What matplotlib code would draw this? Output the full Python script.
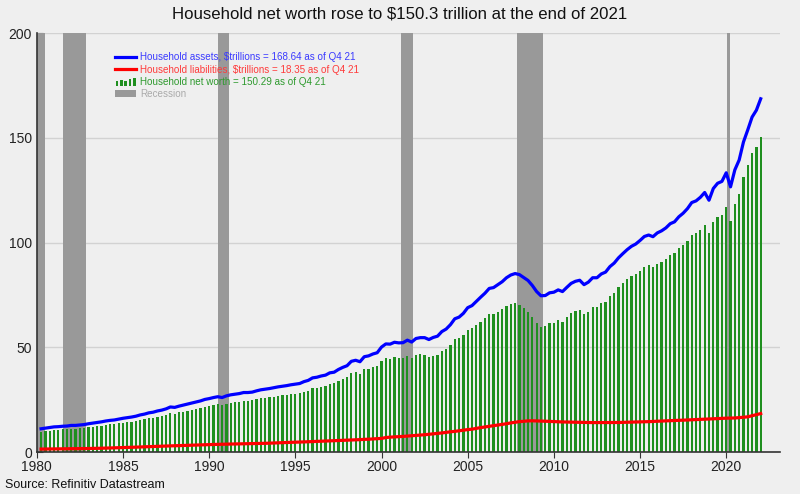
import matplotlib
matplotlib.use("Agg")
import matplotlib.pyplot as plt
import numpy as np
from matplotlib.patches import Patch, Rectangle
from matplotlib.lines import Line2D
from matplotlib.legend_handler import HandlerBase

plt.rcParams['font.family'] = ['Liberation Sans', 'DejaVu Sans']

# Квартальные данные 1980Q1 .. 2021Q4, трлн долл.
first_year = 1980
last_year = 2021

net_worth = [
    9.7, 10.0, 10.2, 10.5,
    10.6, 10.8, 10.8, 11.1,
    11.1, 11.3, 11.5, 11.8,
    12.1, 12.3, 12.6, 12.9,
    13.2, 13.3, 13.7, 14.0,
    14.2, 14.5, 14.8, 15.3,
    15.6, 16.1, 16.4, 16.9,
    17.2, 17.8, 18.6, 18.3,
    18.9, 19.3, 19.7, 20.1,
    20.6, 21.0, 21.6, 22.0,
    22.4, 22.7, 22.3, 23.0,
    23.5, 23.8, 24.0, 24.5,
    24.5, 24.6, 25.1, 25.6,
    25.8, 26.1, 26.4, 26.7,
    27.0, 27.2, 27.5, 27.7,
    28.0, 28.8, 29.3, 30.4,
    30.7, 31.2, 31.5, 32.5,
    32.8, 34.0, 34.9, 35.6,
    37.6, 38.0, 37.2, 39.5,
    39.8, 40.5, 41.0, 43.6,
    44.7, 44.4, 45.2, 44.7,
    44.7, 45.8, 44.7, 46.3,
    46.6, 46.3, 45.2, 46.0,
    46.5, 48.4, 49.3, 51.1,
    53.8, 54.3, 55.8, 58.2,
    59.0, 60.6, 62.2, 63.8,
    65.9, 65.9, 67.0, 68.1,
    69.7, 70.6, 71.0, 70.2,
    68.6, 67.0, 64.6, 61.7,
    59.8, 60.0, 61.4, 61.8,
    63.0, 62.2, 64.3, 66.2,
    67.3, 67.8, 65.7, 67.0,
    69.1, 69.1, 71.0, 71.8,
    74.5, 76.1, 78.6, 80.5,
    82.4, 84.0, 85.0, 86.6,
    88.5, 89.1, 88.2, 89.9,
    90.8, 92.1, 94.0, 94.8,
    97.2, 98.8, 100.9, 103.6,
    104.4, 106.0, 108.2, 104.4,
    109.9, 112.3, 113.1, 117.1,
    110.4, 118.4, 123.0, 131.4,
    137.0, 142.6, 145.4, 150.29,
]

liabilities = [
    1.40, 1.42, 1.45, 1.48,
    1.50, 1.54, 1.57, 1.59,
    1.60, 1.62, 1.64, 1.67,
    1.70, 1.75, 1.80, 1.86,
    1.90, 1.97, 2.03, 2.09,
    2.15, 2.23, 2.32, 2.42,
    2.48, 2.56, 2.64, 2.72,
    2.76, 2.84, 2.92, 2.98,
    3.03, 3.12, 3.20, 3.27,
    3.32, 3.40, 3.47, 3.54,
    3.60, 3.66, 3.72, 3.78,
    3.80, 3.84, 3.88, 3.92,
    3.94, 4.00, 4.05, 4.12,
    4.15, 4.23, 4.31, 4.39,
    4.44, 4.53, 4.61, 4.69,
    4.73, 4.82, 4.90, 4.98,
    5.02, 5.12, 5.20, 5.28,
    5.33, 5.43, 5.52, 5.60,
    5.66, 5.79, 5.91, 6.04,
    6.11, 6.26, 6.38, 6.49,
    6.90, 7.10, 7.20, 7.35,
    7.45, 7.60, 7.75, 7.90,
    8.00, 8.25, 8.45, 8.65,
    8.80, 9.10, 9.40, 9.65,
    9.85, 10.15, 10.45, 10.70,
    10.90, 11.30, 11.65, 11.95,
    12.20, 12.55, 12.85, 13.15,
    13.50, 13.90, 14.20, 14.50,
    14.70, 14.85, 14.90, 14.85,
    14.75, 14.70, 14.60, 14.50,
    14.40, 14.35, 14.30, 14.25,
    14.20, 14.20, 14.15, 14.10,
    14.05, 14.05, 14.00, 14.05,
    14.00, 14.05, 14.10, 14.15,
    14.15, 14.20, 14.30, 14.35,
    14.40, 14.50, 14.60, 14.70,
    14.75, 14.85, 14.95, 15.05,
    15.10, 15.20, 15.30, 15.45,
    15.50, 15.60, 15.70, 15.80,
    15.85, 15.95, 16.05, 16.15,
    16.20, 16.25, 16.40, 16.60,
    16.80, 17.30, 17.80, 18.35,
]

assets = [
    11.1, 11.4, 11.7, 12.0,
    12.1, 12.3, 12.4, 12.7,
    12.7, 12.9, 13.1, 13.5,
    13.8, 14.1, 14.4, 14.8,
    15.1, 15.3, 15.7, 16.1,
    16.4, 16.7, 17.1, 17.7,
    18.1, 18.7, 19.0, 19.6,
    20.0, 20.6, 21.5, 21.3,
    21.9, 22.4, 22.9, 23.4,
    23.9, 24.4, 25.1, 25.5,
    26.0, 26.4, 26.0, 26.8,
    27.3, 27.6, 27.9, 28.4,
    28.4, 28.6, 29.2, 29.7,
    30.0, 30.3, 30.7, 31.1,
    31.4, 31.7, 32.1, 32.4,
    32.7, 33.6, 34.2, 35.4,
    35.7, 36.3, 36.7, 37.8,
    38.1, 39.4, 40.4, 41.2,
    43.3, 43.8, 43.1, 45.5,
    45.9, 46.8, 47.4, 50.1,
    51.6, 51.5, 52.4, 52.1,
    52.2, 53.4, 52.5, 54.2,
    54.6, 54.6, 53.7, 54.7,
    55.3, 57.5, 58.7, 60.8,
    63.6, 64.4, 66.2, 68.9,
    69.9, 71.9, 73.9, 75.8,
    78.1, 78.5, 79.9, 81.3,
    83.2, 84.5, 85.2, 84.7,
    83.3, 81.9, 79.5, 76.6,
    74.6, 74.7, 76.0, 76.3,
    77.4, 76.6, 78.6, 80.5,
    81.5, 82.0, 79.9, 81.1,
    83.2, 83.2, 85.0, 85.9,
    88.5, 90.2, 92.7, 94.7,
    96.6, 98.2, 99.3, 101.0,
    102.9, 103.6, 102.8, 104.6,
    105.6, 107.0, 109.0, 109.9,
    112.3, 114.0, 116.2, 119.1,
    119.9, 121.6, 123.9, 120.2,
    125.8, 128.3, 129.2, 133.3,
    126.6, 134.7, 139.4, 148.0,
    153.8, 159.9, 163.2, 168.64,
]

# Рецессии (начало, конец) в долях года
recessions = [(1980.0, 1980.5), (1981.5, 1982.85), (1990.5, 1991.15),
              (2001.15, 2001.8), (2007.88, 2009.35), (2020.05, 2020.2)]

legend_labels = [
    "Household assets, $trillions = 168.64 as of Q4 21",
    "Household liabilities, $trillions = 18.35 as of Q4 21",
    "Household net worth = 150.29 as of Q4 21",
    "Recession",
]

bg = "#efefef"
green = "#1f8f1f"

# даты конца кварталов
n_q = (last_year - first_year + 1) * 4
x = first_year + (np.arange(n_q) + 1) / 4.0


class BarIconHandler(HandlerBase):
    def create_artists(self, legend, orig_handle, xdescent, ydescent,
                       width, height, fontsize, trans):
        hs = [0.7, 0.95, 0.8, 1.05, 1.2]
        step = width / len(hs)
        arts = []
        for k, h in enumerate(hs):
            r = Rectangle((-xdescent + k * step + step * 0.2, -ydescent - 1),
                          step * 0.6, height * h,
                          facecolor=green, edgecolor='none', transform=trans)
            arts.append(r)
        return arts


fig = plt.figure(figsize=(8, 4.94), dpi=100, facecolor=bg)
ax = fig.add_axes([0.046, 0.085, 0.929, 0.848], facecolor=bg)

for a, b in recessions:
    ax.axvspan(a, b, color="#999999", lw=0, zorder=1)

ax.bar(x, net_worth, width=0.13, color=green, zorder=2, linewidth=0)
ax.plot(x, liabilities, color="#ff0000", lw=2.3, zorder=3)
ax.plot(x, assets, color="#0000ff", lw=2.3, zorder=4)

ax.set_xlim(1980, 2023.12)
ax.set_ylim(0, 200)
ax.set_yticks([0, 50, 100, 150, 200])
ax.set_xticks(range(1980, 2021, 5))
ax.yaxis.grid(True, color="#d2d2d2", lw=1, zorder=0)
ax.set_axisbelow(True)
for s in ["top", "right"]:
    ax.spines[s].set_visible(False)
ax.spines["left"].set_color("#333333")
ax.spines["bottom"].set_color("#333333")
ax.spines["left"].set_linewidth(1.2)
ax.spines["bottom"].set_linewidth(1.2)
ax.tick_params(axis="x", direction="out", length=4, labelsize=10, colors="#333333", pad=2)
ax.tick_params(axis="y", direction="in", length=4, labelsize=10, colors="#333333")
ax.tick_params(axis="y", labelcolor="#222222")
ax.tick_params(axis="x", labelcolor="#222222")

fig.text(0.5, 0.972, "Household net worth rose to $150.3 trillion at the end of 2021",
         fontsize=12.1, color="#111111", ha="center", va="center")

handles = [
    Line2D([], [], color="#0000ff", lw=2.3),
    Line2D([], [], color="#ff0000", lw=2.3),
    Patch(facecolor=green),
    Patch(facecolor="#999999"),
]
leg = ax.legend(handles, legend_labels, loc="upper left",
                bbox_to_anchor=(0.093, 0.975), frameon=False, fontsize=7.1,
                handlelength=2.2, handletextpad=0.35, labelspacing=0.22,
                handler_map={handles[2]: BarIconHandler()})
for t, c in zip(leg.get_texts(), ["#3a3aff", "#ff3a3a", "#2e9a2e", "#aaaaaa"]):
    t.set_color(c)

fig.text(0.006, 0.012, "Source: Refinitiv Datastream", fontsize=9, color="#111111")

fig.savefig("out.png", dpi=100, facecolor=bg)
